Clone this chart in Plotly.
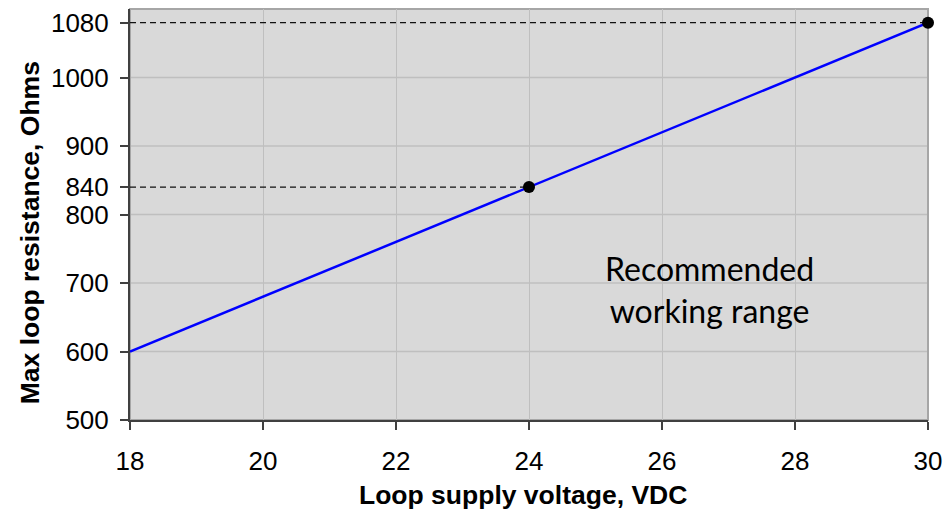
import plotly.graph_objects as go

# Data
voltage = [18, 30]
resistance = [600, 1080]
marked_v = [24, 30]
marked_r = [840, 1080]
x_ticks = [18, 20, 22, 24, 26, 28, 30]
y_ticks = [500, 600, 700, 800, 840, 900, 1000, 1080]
y_grid = [600, 700, 800, 900, 1000]
note_text = "Recommended<br>working range"
note_x, note_y = 26.72, 690

fig = go.Figure()

# dashed reference lines from axis to marked points
for v, r in zip(marked_v, marked_r):
    fig.add_trace(go.Scatter(x=[18, v], y=[r, r], mode="lines",
                             line=dict(color="#111111", width=1.3, dash="6px,4px"),
                             hoverinfo="skip", showlegend=False))

fig.add_trace(go.Scatter(x=voltage, y=resistance, mode="lines",
                         line=dict(color="#0000ff", width=2.5),
                         showlegend=False))
fig.add_trace(go.Scatter(x=marked_v, y=marked_r, mode="markers",
                         marker=dict(color="black", size=12),
                         cliponaxis=False, showlegend=False))

# horizontal gridlines only at regular values
for g in y_grid:
    fig.add_shape(type="line", xref="x domain", yref="y", x0=0, x1=1, y0=g, y1=g,
                  line=dict(color="#bfbfbf", width=1.3), layer="below")

# top/right light border
fig.add_shape(type="rect", xref="x domain", yref="y domain", x0=0, x1=1, y0=0, y1=1,
              line=dict(color="#a6a6a6", width=2), layer="below")

fig.add_annotation(x=note_x, y=note_y, text=note_text, showarrow=False,
                   font=dict(family="Lato, Carlito, sans-serif", size=32, color="black"),
                   align="center")

title_font = dict(family="Liberation Sans, Arial, sans-serif", size=26.5, color="black")
# axis titles as annotations for precise placement
fig.add_annotation(xref="paper", yref="paper", x=-0.125, y=0.455,
                   xanchor="center", yanchor="middle", textangle=-90,
                   text="<b>Max loop resistance, Ohms</b>", showarrow=False,
                   font=title_font)
fig.add_annotation(xref="paper", yref="paper", x=0.4925, y=-0.182,
                   xanchor="center", yanchor="middle",
                   text="<b>Loop supply voltage, VDC</b>", showarrow=False,
                   font=title_font)

fig.update_layout(
    width=935, height=502,
    margin=dict(l=122, r=15, t=1, b=90),
    paper_bgcolor="white", plot_bgcolor="#d9d9d9",
    font=dict(family="Liberation Sans, Arial, sans-serif", color="black"),
)
fig.update_xaxes(range=[18, 30], tickvals=x_ticks, ticks="outside", ticklen=8,
                 tickcolor="#404040", tickwidth=1.5, automargin=False,
                 ticklabelstandoff=9, ticklabeloverflow="allow",
                 showline=True, linecolor="#404040", linewidth=2,
                 showgrid=True, gridcolor="#bfbfbf", gridwidth=1.3,
                 zeroline=False, tickfont=dict(size=26))
fig.update_yaxes(range=[500, 1100], tickvals=y_ticks, ticks="outside", ticklen=8,
                 tickcolor="#404040", tickwidth=1.5, automargin=False,
                 ticklabelstandoff=6, ticklabeloverflow="allow",
                 showline=True, linecolor="#404040", linewidth=2,
                 showgrid=False, zeroline=False, tickfont=dict(size=26))

fig.write_html("out.html")
